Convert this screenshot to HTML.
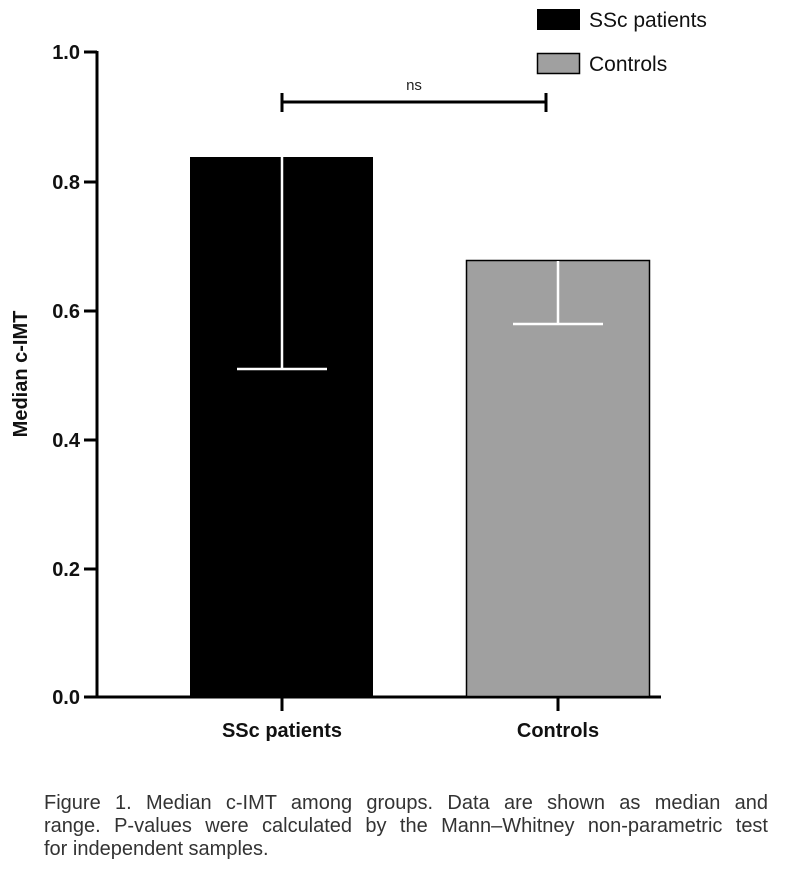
<!DOCTYPE html>
<html><head><meta charset="utf-8"><style>
body{margin:0;background:#fff;width:800px;height:872px;overflow:hidden;position:relative}
svg{display:block}
.t{font-family:"Liberation Sans",Arial,sans-serif}
.cap{position:absolute;left:44px;top:792px;width:724px;font-family:"Liberation Sans",Arial,sans-serif;font-size:20px;line-height:23px;color:#333}
.cap div{white-space:nowrap}
.j{text-align:justify;text-align-last:justify}
</style></head><body>
<svg width="800" height="872" viewBox="0 0 800 872">
<g stroke="#000" stroke-width="3" fill="none">
<line x1="97" y1="51" x2="97" y2="698"/>
<line x1="84" y1="52" x2="97" y2="52"/>
<line x1="84" y1="182" x2="97" y2="182"/>
<line x1="84" y1="311" x2="97" y2="311"/>
<line x1="84" y1="440" x2="97" y2="440"/>
<line x1="84" y1="569" x2="97" y2="569"/>
<line x1="84" y1="697" x2="661" y2="697"/>
<line x1="282" y1="697" x2="282" y2="711"/>
<line x1="558" y1="697" x2="558" y2="711"/>
<line x1="282" y1="102" x2="546" y2="102"/>
<line x1="282" y1="93" x2="282" y2="112"/>
<line x1="546" y1="93" x2="546" y2="112"/>
</g>
<rect x="190" y="157" width="183" height="540" fill="#000"/>
<rect x="466.5" y="260.5" width="183" height="436" fill="#a0a0a0" stroke="#000" stroke-width="1.5"/>
<g stroke="#fff" stroke-width="2.5">
<line x1="282" y1="157" x2="282" y2="369"/>
<line x1="237" y1="369" x2="327" y2="369"/>
<line x1="558" y1="261" x2="558" y2="324"/>
<line x1="513" y1="324" x2="603" y2="324"/>
</g>
<g class="t" font-weight="bold" font-size="20" fill="#111" text-anchor="end">
<text x="80" y="59">1.0</text>
<text x="80" y="189">0.8</text>
<text x="80" y="318">0.6</text>
<text x="80" y="447">0.4</text>
<text x="80" y="576">0.2</text>
<text x="80" y="704">0.0</text>
</g>
<text class="t" font-weight="bold" font-size="20" fill="#111" transform="translate(27,374) rotate(-90)" text-anchor="middle">Median c-IMT</text>
<g class="t" font-weight="bold" font-size="20" fill="#111" text-anchor="middle">
<text x="282" y="737">SSc patients</text>
<text x="558" y="737">Controls</text>
</g>
<text class="t" font-size="15" fill="#222" x="414" y="90" text-anchor="middle">ns</text>
<rect x="537" y="9" width="43" height="21" fill="#000"/>
<rect x="537.5" y="53.5" width="42" height="20" fill="#a0a0a0" stroke="#000" stroke-width="1.5"/>
<g class="t" font-size="21" fill="#111">
<text x="589" y="27">SSc patients</text>
<text x="589" y="71">Controls</text>
</g>
</svg>
<div class="cap">
<div class="j">Figure 1. Median c-IMT among groups. Data are shown as median and</div>
<div class="j">range. P-values were calculated by the Mann–Whitney non-parametric test</div>
<div>for independent samples.</div>
</div>
</body></html>
